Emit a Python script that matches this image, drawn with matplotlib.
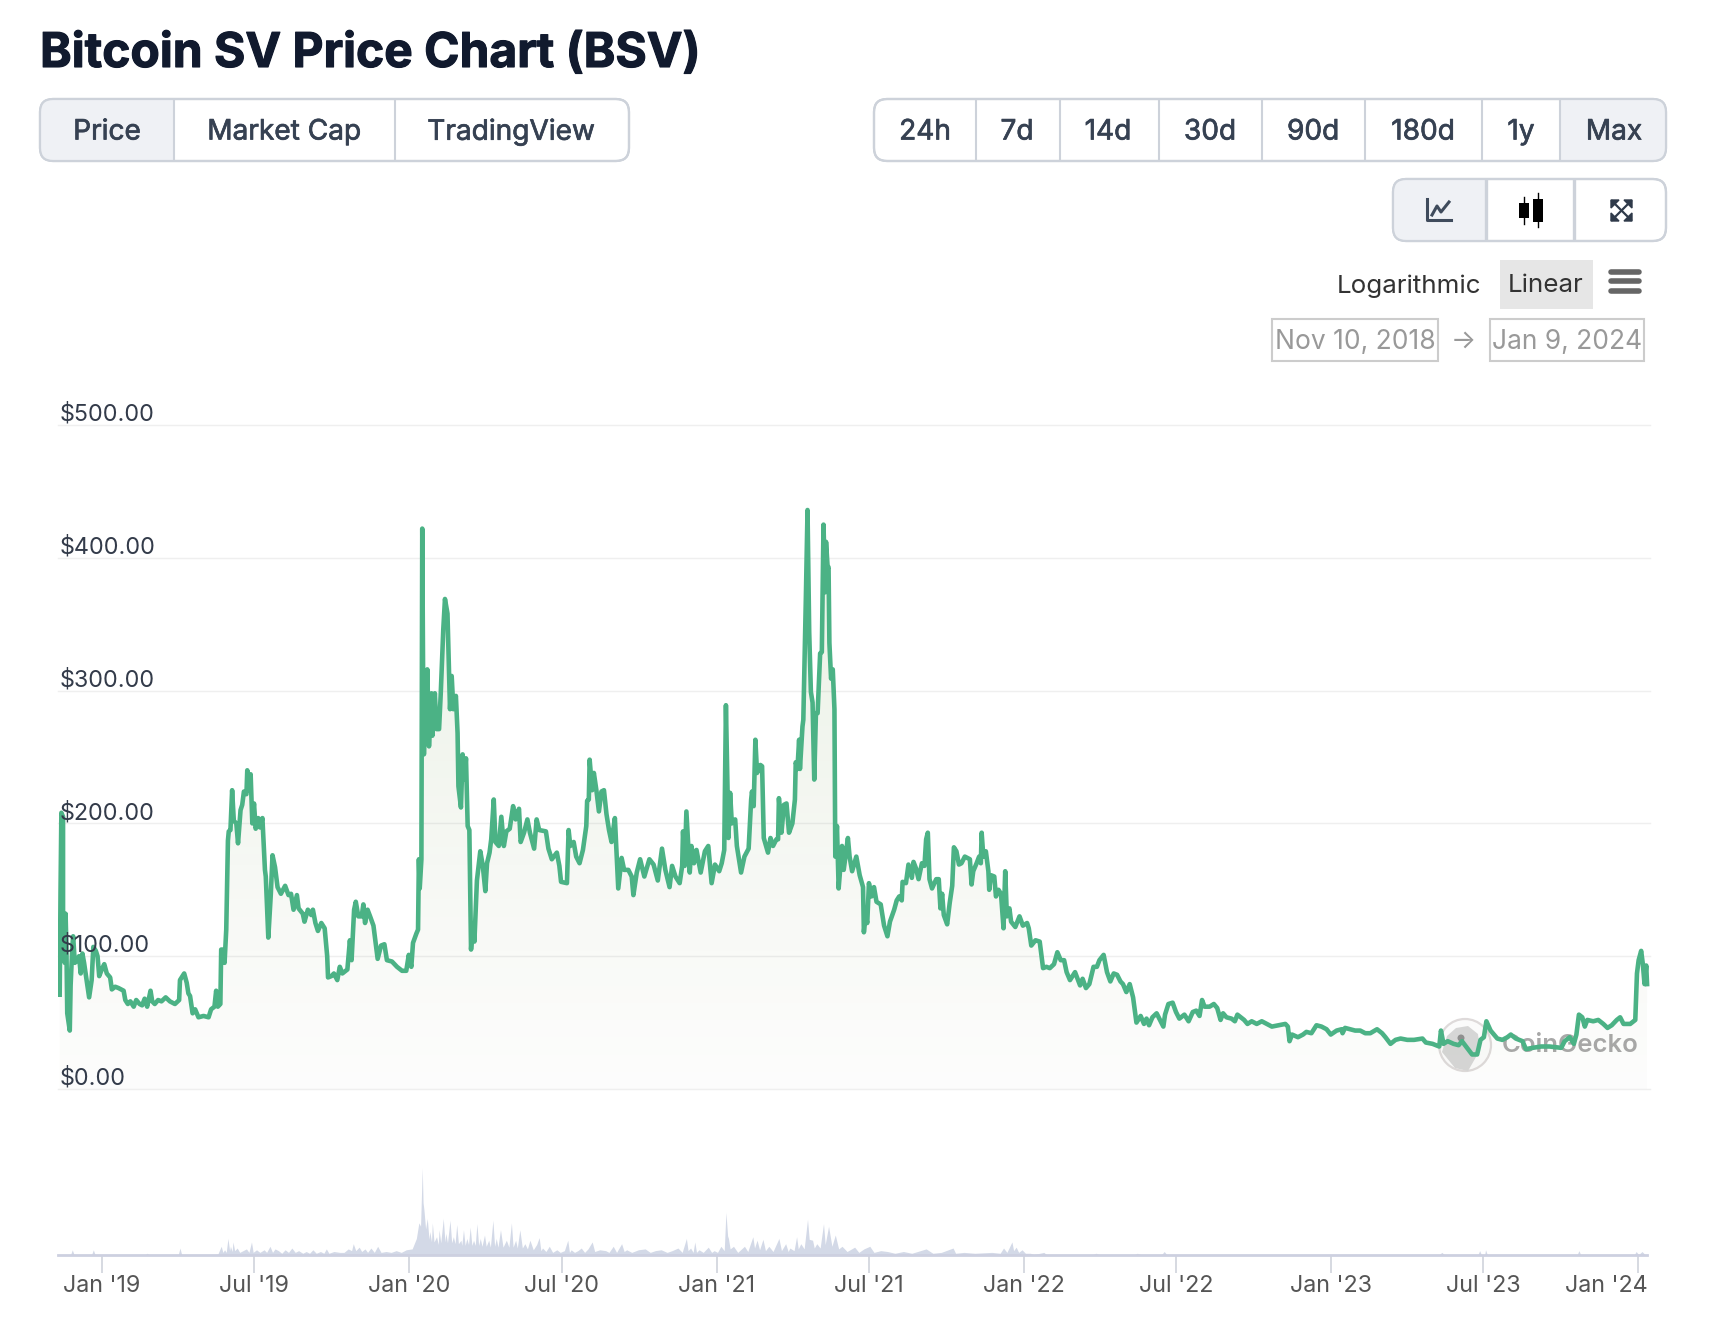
import matplotlib
matplotlib.use('Agg')
import matplotlib.dates as mdates
import matplotlib.patheffects as pe
import matplotlib.pyplot as plt
import numpy as np
import pandas as pd
from matplotlib.colors import LinearSegmentedColormap
from matplotlib.patches import Circle, FancyBboxPatch, Polygon, Rectangle
from matplotlib.transforms import ScaledTranslation

plt.rcParams['font.family'] = ['Inter', 'DejaVu Sans']

# days counted from the first date in the chart
start_date = '2018-11-10'

price_days = [
    2, 3, 4, 6, 6, 8, 9, 10, 11, 14, 15, 17, 18, 20, 23, 25, 27, 29, 31, 34, 37, 40, 42, 45, 47, 49, 52, 55, 58, 62,
    64, 68, 72, 78, 80, 83, 86, 90, 93, 97, 100, 103, 106, 110, 112, 115, 119, 123, 128, 133, 139, 144, 145, 148, 150,
    153, 155, 157, 160, 163, 167, 173, 179, 182, 186, 188, 190, 193, 194, 196, 198, 200, 202, 203, 205, 207, 209, 212,
    214, 217, 219, 221, 224, 225, 227, 229, 231, 233, 235, 238, 240, 243, 246, 247, 250, 253, 255, 258, 261, 265, 270,
    274, 277, 280, 284, 286, 291, 293, 297, 301, 303, 306, 309, 313, 317, 320, 321, 325, 328, 332, 335, 338, 344, 347,
    349, 352, 354, 357, 361, 363, 365, 368, 371, 375, 380, 384, 388, 391, 397, 403, 409, 414, 417, 420, 422, 426, 428,
    429, 430, 432, 433, 434, 435, 437, 438, 439, 441, 444, 445, 448, 450, 453, 455, 458, 460, 463, 466, 468, 470, 473,
    475, 476, 479, 481, 483, 485, 487, 489, 491, 493, 495, 498, 500, 502, 505, 508, 510, 513, 515, 518, 520, 524, 527,
    530, 533, 537, 541, 544, 548, 550, 554, 558, 561, 566, 569, 572, 580, 583, 587, 593, 596, 598, 605, 607, 609, 613,
    616, 620, 624, 628, 629, 631, 632, 635, 637, 640, 643, 646, 649, 652, 655, 658, 662, 666, 670, 673, 678, 682, 684,
    688, 692, 697, 703, 708, 713, 718, 722, 727, 730, 734, 739, 742, 743, 745, 747, 751, 753, 756, 759, 764, 769, 773,
    777, 781, 786, 789, 792, 794, 797, 799, 801, 805, 807, 809, 812, 816, 821, 824, 825, 827, 829, 831, 835, 837, 839,
    844, 847, 850, 854, 856, 857, 860, 863, 866, 869, 873, 876, 877, 879, 881, 882, 885, 886, 889, 891, 893, 895, 897,
    899, 901, 903, 906, 908, 910, 912, 913, 915, 916, 917, 919, 921, 923, 924, 926, 928, 932, 934, 939, 941, 944, 949,
    953, 957, 958, 960, 962, 964, 967, 970, 973, 978, 982, 986, 989, 994, 997, 1000, 1003, 1004, 1008, 1011, 1015,
    1017, 1020, 1023, 1027, 1030, 1032, 1034, 1036, 1039, 1044, 1047, 1049, 1051, 1053, 1057, 1060, 1063, 1065, 1068,
    1071, 1074, 1078, 1084, 1086, 1088, 1092, 1095, 1097, 1098, 1100, 1103, 1106, 1107, 1109, 1113, 1115, 1118, 1121,
    1124, 1126, 1128, 1131, 1133, 1138, 1143, 1147, 1152, 1154, 1157, 1162, 1167, 1171, 1175, 1179, 1184, 1188, 1192,
    1196, 1199, 1203, 1209, 1215, 1218, 1222, 1226, 1231, 1235, 1238, 1243, 1247, 1251, 1255, 1259, 1263, 1266, 1270,
    1274, 1278, 1282, 1287, 1291, 1294, 1297, 1301, 1306, 1314, 1316, 1320, 1325, 1329, 1333, 1339, 1344, 1349, 1353,
    1357, 1360, 1363, 1369, 1374, 1378, 1382, 1385, 1389, 1395, 1399, 1402, 1406, 1410, 1414, 1419, 1425, 1431, 1437,
    1443, 1451, 1459, 1462, 1464, 1467, 1474, 1480, 1484, 1490, 1496, 1502, 1508, 1513, 1520, 1526, 1527, 1530, 1536,
    1542, 1548, 1554, 1560, 1568, 1574, 1578, 1584, 1590, 1596, 1604, 1612, 1622, 1626, 1634, 1642, 1644, 1647, 1652,
    1659, 1665, 1669, 1675, 1681, 1687, 1691, 1695, 1698, 1703, 1711, 1717, 1723, 1727, 1733, 1741, 1745, 1753, 1763,
    1773, 1787, 1791, 1797, 1802, 1805, 1808, 1812, 1815, 1818, 1825, 1831, 1837, 1842, 1847, 1853, 1857, 1861, 1869,
    1875, 1877, 1879, 1882, 1884, 1886, 1888, 1889,
]
price_values = [
    71, 148, 208, 205, 135, 95, 132, 107, 57, 44, 78, 107, 115, 95, 97, 100, 87, 102, 95, 82, 69, 82, 107, 104, 100, 85,
    90, 94, 87, 84, 75, 77, 76, 74, 67, 64, 66, 62, 67, 64, 63, 68, 62, 74, 66, 64, 67, 66, 69, 66, 64, 67, 82, 85, 87,
    80, 72, 70, 57, 60, 54, 55, 54, 60, 62, 74, 62, 64, 105, 105, 95, 120, 187, 194, 195, 225, 202, 200, 185, 210, 214,
    224, 222, 240, 225, 237, 200, 215, 196, 204, 197, 204, 165, 160, 114, 147, 176, 167, 152, 147, 153, 146, 147, 135,
    146, 136, 132, 126, 135, 131, 135, 125, 119, 125, 121, 100, 84, 85, 87, 82, 92, 87, 90, 112, 97, 135, 141, 130, 130,
    139, 125, 135, 130, 123, 98, 108, 109, 97, 96, 92, 89, 89, 101, 92, 110, 117, 120, 173, 151, 173, 422, 314, 252,
    309, 261, 316, 258, 298, 266, 298, 271, 271, 298, 346, 369, 358, 286, 311, 286, 296, 268, 228, 212, 252, 233, 249,
    198, 195, 105, 123, 111, 157, 168, 179, 168, 149, 170, 178, 188, 218, 186, 183, 205, 183, 194, 196, 213, 203, 211,
    186, 193, 203, 193, 181, 203, 195, 194, 181, 173, 178, 168, 156, 155, 195, 183, 186, 175, 170, 180, 198, 217, 218,
    248, 225, 238, 225, 209, 224, 225, 207, 195, 186, 204, 151, 174, 165, 165, 160, 146, 163, 173, 160, 173, 169, 157,
    181, 165, 152, 168, 160, 155, 168, 194, 168, 209, 163, 183, 170, 180, 163, 179, 183, 155, 169, 164, 170, 180, 289,
    189, 223, 200, 203, 183, 175, 163, 175, 181, 218, 224, 213, 263, 238, 244, 243, 189, 178, 189, 183, 188, 188, 219,
    193, 214, 215, 193, 200, 218, 246, 241, 263, 241, 273, 278, 369, 436, 344, 299, 291, 233, 283, 283, 328, 329, 425,
    374, 412, 392, 393, 336, 309, 316, 286, 175, 198, 151, 183, 165, 189, 175, 164, 175, 161, 152, 118, 131, 125, 155,
    145, 152, 141, 139, 123, 115, 126, 135, 142, 145, 142, 156, 155, 169, 159, 171, 166, 158, 170, 168, 188, 193, 158,
    151, 158, 158, 136, 147, 131, 124, 140, 153, 182, 179, 169, 170, 175, 173, 154, 164, 170, 175, 170, 193, 175, 179,
    164, 150, 161, 160, 145, 150, 147, 121, 164, 130, 136, 126, 122, 130, 123, 125, 121, 108, 112, 111, 91, 92, 91, 94,
    103, 97, 97, 88, 82, 88, 78, 83, 76, 79, 92, 92, 97, 101, 88, 81, 87, 86, 81, 79, 73, 79, 69, 50, 55, 49, 53, 48,
    54, 57, 47, 56, 64, 65, 58, 53, 56, 51, 58, 59, 55, 67, 62, 62, 64, 61, 52, 57, 54, 53, 51, 56, 54, 52, 49, 51, 49,
    51, 49, 47, 48, 49, 47, 36, 41, 39, 41, 43, 42, 48, 47, 45, 41, 44, 45, 42, 46, 45, 44, 44, 42, 42, 45, 42, 39, 34,
    37, 38, 37, 37, 38, 35, 34, 32, 44, 34, 36, 34, 33, 36, 31, 26, 26, 37, 39, 51, 44, 38, 37, 39, 41, 38, 36, 30, 31,
    32, 32, 31, 36, 39, 34, 41, 56, 54, 47, 52, 51, 52, 49, 46, 48, 52, 54, 49, 49, 52, 87, 97, 104, 94, 79, 93, 79,
]

# relative volume, tallest bar = 100
volume_days = [
    1, 15, 17, 19, 40, 42, 44, 104, 106, 108,
    143, 145, 147, 187, 190, 194, 196, 198, 200, 202,
    204, 205, 207, 208, 210, 213, 216, 220, 224, 227,
    230, 232, 236, 240, 245, 248, 252, 255, 258, 262,
    266, 270, 274, 278, 282, 286, 291, 295, 299, 303,
    307, 312, 316, 319, 322, 328, 335, 340, 345, 349,
    351, 354, 358, 361, 365, 368, 372, 376, 380, 384,
    390, 396, 402, 408, 414, 421, 426, 429, 431, 433,
    434, 435, 437, 439, 441, 442, 444, 445, 447, 450,
    452, 453, 455, 458, 460, 461, 463, 466, 468, 470,
    472, 474, 476, 479, 480, 482, 484, 486, 488, 490,
    492, 494, 496, 498, 500, 502, 504, 507, 509, 512,
    514, 517, 519, 521, 523, 526, 529, 533, 536, 539,
    541, 544, 546, 549, 552, 555, 558, 561, 565, 569,
    572, 574, 576, 580, 584, 588, 593, 597, 602, 606,
    608, 610, 614, 618, 622, 626, 630, 635, 638, 644,
    651, 655, 660, 664, 670, 673, 676, 682, 690, 698,
    704, 710, 717, 724, 730, 737, 742, 747, 749, 752,
    755, 757, 759, 762, 767, 773, 777, 780, 784, 788,
    792, 794, 796, 797, 799, 803, 808, 816, 820, 826,
    828, 831, 834, 838, 841, 845, 850, 857, 860, 865,
    868, 870, 875, 878, 880, 883, 887, 891, 893, 897,
    899, 902, 906, 910, 912, 916, 920, 924, 928, 932,
    938, 947, 952, 958, 965, 970, 978, 986, 995, 1005,
    1015, 1032, 1040, 1050, 1064, 1067, 1077, 1090, 1110, 1120,
    1124, 1128, 1134, 1136, 1139, 1142, 1146, 1150, 1156, 1160,
    1172, 1175, 1230, 1234, 1238, 1280, 1283, 1287, 1312, 1315,
    1318, 1642, 1645, 1648, 1688, 1690, 1692, 1696, 1697, 1699,
    1806, 1808, 1810, 1874, 1876, 1879, 1883, 1886,
]
volume_values = [
    0, .5, 6, .5, .5, 6, .5, .5, 2, .5,
    .5, 8, .5, .5, 1, 10, 3, 6, 3, 19,
    5, 10, 4, 15, 5, 8, 3, 5, 7, 3,
    15, 3, 6, 3, 6, 3, 10, 3, 7, 5,
    2, 6, 3, 8, 3, 5, 2, 4, 2, 6,
    2, 4, 2, 7, 2, 4, 3, 3, 7, 5,
    13, 5, 9, 4, 7, 3, 8, 3, 10, 3,
    4, 3, 5, 3, 6, 7, 19, 37, 33, 100,
    60, 52, 30, 42, 18, 27, 15, 37, 15, 21,
    12, 29, 14, 42, 15, 25, 14, 40, 14, 21,
    13, 35, 13, 17, 11, 29, 11, 19, 12, 32,
    11, 17, 11, 36, 11, 19, 10, 23, 10, 17,
    9, 40, 10, 19, 9, 29, 9, 17, 9, 37,
    9, 17, 8, 29, 8, 13, 7, 17, 6, 12,
    20, 5, 8, 4, 10, 3, 6, 3, 5, 17,
    3, 6, 3, 5, 8, 3, 7, 15, 4, 6,
    5, 3, 10, 3, 13, 4, 6, 3, 6, 7,
    3, 5, 6, 3, 5, 8, 3, 19, 5, 8,
    3, 15, 3, 6, 3, 9, 3, 5, 3, 10,
    5, 49, 22, 19, 7, 10, 3, 10, 4, 21,
    8, 17, 6, 18, 5, 10, 4, 19, 5, 13,
    4, 8, 5, 21, 7, 13, 7, 41, 18, 17,
    8, 13, 8, 36, 12, 33, 10, 23, 7, 10,
    4, 9, 3, 7, 10, 3, 5, 4, 2, 4,
    2, 7, 2, 3, 8, 2, 3, 2, 3, 2,
    8, 3, 15, 5, 9, 3, 6, 2, 2, .5,
    3, .5, .5, 2, .5, .5, 2, .5, .5, 4,
    .5, .5, 3, .5, .5, 5, .5, .5, 6, .5,
    .5, 5, .5, .5, 4, .5, 4, 1,
]

price_ticks = [0, 100, 200, 300, 400, 500]
price_tick_labels = ['$0.00', '$100.00', '$200.00', '$300.00', '$400.00', '$500.00']

date_ticks = ['2019-01-01', '2019-07-01', '2020-01-01', '2020-07-01', '2021-01-01', '2021-07-01',
              '2022-01-01', '2022-07-01', '2023-01-01', '2023-07-01', '2024-01-01']
date_tick_labels = ["Jan '19", "Jul '19", "Jan '20", "Jul '20", "Jan '21", "Jul '21",
                    "Jan '22", "Jul '22", "Jan '23", "Jul '23", "Jan '24"]

tabs_left = ['Price', 'Market Cap', 'TradingView']
tabs_right = ['24h', '7d', '14d', '30d', '90d', '180d', '1y', 'Max']

# keep both series the same length whatever was traced
n_price = min(len(price_days), len(price_values))
price_days, price_values = price_days[:n_price], price_values[:n_price]
n_vol = min(len(volume_days), len(volume_values))
volume_days, volume_values = volume_days[:n_vol], volume_values[:n_vol]

W, H = 1720, 1324
TEXT_DARK = '#364152'
BORDER = '#cdd2da'
ACTIVE = '#eff1f5'
GREEN = '#4bb285'

fig = plt.figure(figsize=(W / 100, H / 100), dpi=100, facecolor='white')


def px_axes(left, top, right, bottom):
    return fig.add_axes([left / W, 1 - bottom / H, (right - left) / W, (bottom - top) / H])


# page furniture is drawn in pixel coordinates on a full size axes
bg = fig.add_axes([0, 0, 1, 1], zorder=0)
bg.set_xlim(0, W)
bg.set_ylim(H, 0)
bg.axis('off')

title = bg.text(40, 54, 'Bitcoin SV Price Chart (BSV)', fontsize=34.5, fontweight='bold', color='#111a2e', va='center')
title.set_path_effects([pe.withStroke(linewidth=0.8, foreground='#111a2e')])


def button_group(left, right, top, bottom, dividers, active, div_lw=1.5):
    box = FancyBboxPatch((left, top), right - left, bottom - top, boxstyle='round,pad=0,rounding_size=13',
                         fc='white', ec=BORDER, lw=1.6, zorder=2)
    bg.add_patch(box)
    edges = [left] + dividers + [right]
    shade = Rectangle((edges[active], top), edges[active + 1] - edges[active], bottom - top, fc=ACTIVE, ec='none',
                      zorder=2.1)
    bg.add_patch(shade)
    shade.set_clip_path(box)
    for d in dividers:
        bg.plot([d, d], [top, bottom], color=BORDER, lw=div_lw, zorder=2.2, solid_capstyle='butt')
    # redraw the outline over the shaded part
    bg.add_patch(FancyBboxPatch((left, top), right - left, bottom - top, boxstyle='round,pad=0,rounding_size=13',
                                fc='none', ec=BORDER, lw=1.6, zorder=2.3))


def button_label(label, xc):
    t = bg.text(xc, 132, label, fontsize=20.2, color=TEXT_DARK, ha='center', va='center', zorder=3)
    t.set_path_effects([pe.withStroke(linewidth=0.5, foreground=TEXT_DARK)])


button_group(40, 629, 99, 161, [174, 395], 0)
for label, xc in zip(tabs_left, [107, 284, 511]):
    button_label(label, xc)

button_group(874, 1666, 99, 161, [976, 1060, 1159, 1262, 1365, 1482, 1560], 7)
for label, xc in zip(tabs_right, [925, 1017, 1108, 1210, 1313, 1423, 1521, 1614]):
    button_label(label, xc)

button_group(1393, 1666, 179, 241, [1486, 1574], 0, div_lw=2.4)

# line chart icon
bg.plot([1427, 1427, 1451], [199, 220, 220], color='#3f4b5c', lw=2.2, zorder=3)
bg.plot([1432, 1437, 1441, 1449], [215, 206, 212, 202], color='#3f4b5c', lw=2.2, zorder=3)
# candlestick icon
bg.plot([1524, 1524], [197, 224], color='black', lw=1, zorder=3)
bg.plot([1538, 1538], [193, 227], color='black', lw=1, zorder=3)
bg.add_patch(Rectangle((1519, 203), 10, 15, fc='black', ec='none', zorder=3))
bg.add_patch(Rectangle((1533, 199), 10, 23, fc='black', ec='none', zorder=3))
# fullscreen icon
for x0, x1, y0, y1 in [(1612, 1631, 201, 220), (1631, 1612, 201, 220)]:
    bg.plot([x0, x1], [y0, y1], color='#2f3a4a', lw=1.6, zorder=3)
for cx, cy, sx, sy in [(1611, 200, 1, 1), (1632, 200, -1, 1), (1611, 221, 1, -1), (1632, 221, -1, -1)]:
    bg.add_patch(Polygon([(cx, cy), (cx + 8 * sx, cy), (cx, cy + 8 * sy)], fc='#2f3a4a', ec='#2f3a4a', lw=1, zorder=3))

bg.text(1409, 286, 'Logarithmic', fontsize=18.7, color='#333333', ha='center', va='center')
bg.add_patch(Rectangle((1500, 260), 93, 49, fc='#e6e6e6', ec='none'))
bg.text(1546, 286, 'Linear', fontsize=18.7, color='#333333', ha='center', va='center')
for y in [272, 281, 291]:
    bg.plot([1611, 1639], [y, y], color='#666666', lw=4, solid_capstyle='round')

bg.add_patch(Rectangle((1272, 319), 166, 42, fc='white', ec='#cccccc', lw=1.5))
bg.add_patch(Rectangle((1490, 319), 154, 42, fc='white', ec='#cccccc', lw=1.5))
bg.text(1355, 342, 'Nov 10, 2018', fontsize=19, color='#999999', ha='center', va='center')
bg.text(1567, 342, 'Jan 9, 2024', fontsize=19, color='#999999', ha='center', va='center')
bg.text(1463, 341, '→', fontsize=19, color='#999999', ha='center', va='center')

# CoinGecko watermark
bg.add_patch(Circle((1465, 1045), 26, fc='#fbfbfb', ec='#dedada', lw=1.6))
bg.add_patch(Polygon([(1442, 1052), (1447, 1036), (1456, 1028), (1468, 1026), (1478, 1034), (1480, 1050), (1468, 1071),
                      (1455, 1068)], fc='#d6d6d6', ec='none'))
bg.add_patch(Circle((1461, 1038), 3.5, fc='#8f8f8f', ec='none'))
bg.text(1502, 1045, 'CoinGecko', fontsize=18.5, fontweight='semibold', color='#a8a8a8', va='center')

# price panel
base = pd.Timestamp(start_date)
price_x = base + pd.to_timedelta(price_days, unit='D')
volume_x = base + pd.to_timedelta(volume_days, unit='D')
x_right = base + pd.Timedelta(days=1892.5)

ax = px_axes(58, 425, 1650, 1089)
ax.set_zorder(1)
ax.patch.set_visible(False)
for s in ax.spines.values():
    s.set_visible(False)
ax.set_ylim(0, 500)
ax.set_xlim(base, x_right)

for p in price_ticks:
    ax.axhline(p, color='#efefef', lw=1, zorder=0.5, clip_on=False)

# soft green gradient below the line
fill = ax.fill_between(price_x, price_values, 0, color='none')
cmap = LinearSegmentedColormap.from_list('fade', [(0.55, 0.58, 0.42, 0.02), (0.39, 0.67, 0.24, 0.17)])
grad = ax.imshow(np.linspace(1, 0, 256).reshape(-1, 1), cmap=cmap, aspect='auto', zorder=1, vmin=0, vmax=1,
                 extent=[ax.get_xlim()[0], ax.get_xlim()[1], 0, 500])
grad.set_clip_path(fill.get_paths()[0], transform=ax.transData)
ax.set_xlim(base, x_right)
ax.set_ylim(0, 500)

ax.plot(price_x, price_values, color=GREEN, lw=3.3, solid_joinstyle='round', zorder=2)

ax.set_xticks([])
ax.set_yticks(price_ticks)
ax.set_yticklabels(price_tick_labels)
ax.tick_params(axis='y', length=0, pad=-1.5, labelsize=16.8, labelcolor='#333b4a')
up = ScaledTranslation(0, 13 / 100, fig.dpi_scale_trans)
for tick in ax.yaxis.get_major_ticks():
    tick.label1.set_ha('left')
    tick.label1.set_transform(tick.label1.get_transform() + up)
ax.set_axisbelow(False)

# volume panel
vol = px_axes(58, 1168, 1650, 1255)
vol.set_zorder(1)
vol.patch.set_visible(False)
for side in ['top', 'left', 'right']:
    vol.spines[side].set_visible(False)
vol.fill_between(volume_x, volume_values, 0, color='#d3d9e7', lw=0)
vol.set_xlim(base, x_right)
vol.set_ylim(0, 100)
vol.set_yticks([])
vol.spines['bottom'].set_color('#cdd0e0')
vol.spines['bottom'].set_linewidth(2)
vol.spines['bottom'].set_bounds(mdates.date2num(base), mdates.date2num(base + pd.Timedelta(days=1889)))
vol.set_xticks(pd.to_datetime(date_ticks))
vol.set_xticklabels(date_tick_labels)
vol.tick_params(axis='x', length=13, width=1.1, color='#ccd0d8', pad=1.5, labelsize=16.8, labelcolor='#555555')
last = vol.xaxis.get_major_ticks()[-1].label1
last.set_ha('right')
last.set_transform(last.get_transform() + ScaledTranslation(10 / 100, 0, fig.dpi_scale_trans))

fig.savefig('out.png', dpi=100)
